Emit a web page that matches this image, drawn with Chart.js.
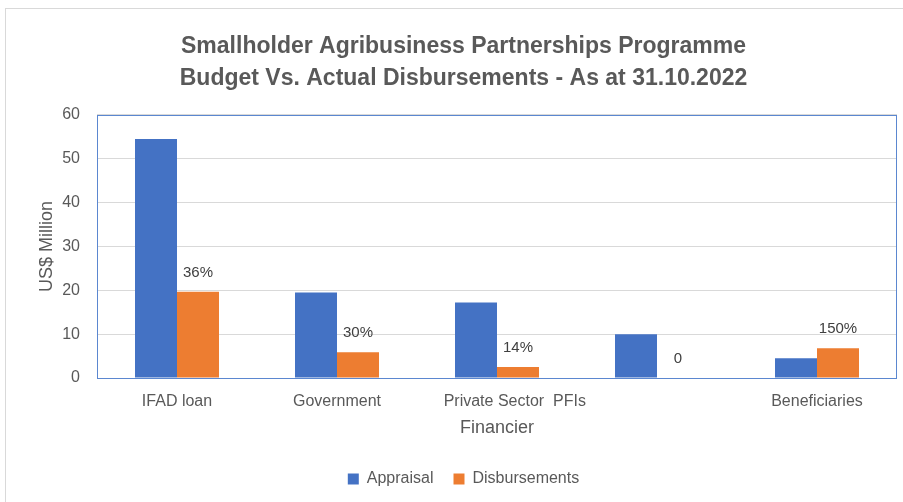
<!DOCTYPE html>
<html>
<head>
<meta charset="utf-8">
<script src="https://cdn.jsdelivr.net/npm/chart.js@4"></script>
<style>
  body { margin: 0; background: #fff; }
  #wrap { position: relative; width: 903px; height: 502px; }
  #frame { position: absolute; left: 5px; top: 8px; right: -2px; bottom: -2px; border: 1px solid #D9D9D9; }
  canvas { position: absolute; left: 0; top: 0; }
</style>
</head>
<body>
<div id="wrap">
  <div id="frame"></div>
  <canvas id="budgetChart" width="903" height="502"></canvas>
</div>
<script>
const categories = ['IFAD loan', 'Government', '        Private Sector  PFIs', '', 'Beneficiaries'];
const appraisal = [54.5, 19.5, 17.2, 10.0, 4.5];
const disbursements = [19.7, 5.9, 2.5, 0, 6.8];
const disbursementLabels = ['36%', '30%', '14%', '0', '150%'];
const titleLines = ['Smallholder Agribusiness Partnerships Programme', 'Budget Vs. Actual Disbursements - As at 31.10.2022'];

const textColor = '#595959';
const fontFamily = '"Liberation Sans", Arial, sans-serif';

// percent labels above the disbursement bars
const barLabels = {
    id: 'barLabels',
    afterDatasetsDraw(chart) {
        const ctx = chart.ctx;
        const meta = chart.getDatasetMeta(1);
        ctx.save();
        ctx.font = '15px ' + fontFamily;
        ctx.fillStyle = '#404040';
        ctx.textAlign = 'center';
        ctx.textBaseline = 'middle';
        meta.data.forEach((bar, i) => {
            ctx.fillText(disbursementLabels[i], bar.x, bar.y - 19);
        });
        ctx.restore();
    }
};

// blue border round the plot area
const plotBorder = {
    id: 'plotBorder',
    afterDraw(chart) {
        const a = chart.chartArea;
        const ctx = chart.ctx;
        ctx.save();
        ctx.strokeStyle = '#5B87D0';
        ctx.lineWidth = 1;
        ctx.strokeRect(Math.round(a.left) + 0.5, Math.round(a.top) + 0.5, Math.round(a.right - a.left) - 1, Math.round(a.bottom - a.top));
        ctx.restore();
    }
};

const ctx = document.getElementById('budgetChart').getContext('2d');

new Chart(ctx, {
    type: 'bar',
    data: {
        labels: categories,
        datasets: [{
            label: 'Appraisal',
            data: appraisal,
            backgroundColor: '#4472C4',
            borderWidth: 0,
            barPercentage: 1,
            categoryPercentage: 0.525
        }, {
            label: 'Disbursements',
            data: disbursements,
            backgroundColor: '#ED7D31',
            borderWidth: 0,
            barPercentage: 1,
            categoryPercentage: 0.525
        }]
    },
    options: {
        responsive: false,
        animation: false,
        layout: {
            padding: { left: 30, right: 6, top: 31, bottom: 5 }
        },
        plugins: {
            title: {
                display: true,
                text: titleLines,
                color: textColor,
                font: { family: fontFamily, size: 23, weight: 'bold', lineHeight: 1.39 },
                padding: { top: 0, bottom: 20 }
            },
            legend: {
                position: 'bottom',
                labels: {
                    color: textColor,
                    font: { family: fontFamily, size: 16 },
                    boxWidth: 11,
                    boxHeight: 11,
                    padding: 20
                }
            },
            tooltip: { enabled: false }
        },
        scales: {
            x: {
                grid: { display: false },
                border: { display: false },
                ticks: {
                    color: textColor,
                    font: { family: fontFamily, size: 16 },
                    maxRotation: 0,
                    autoSkip: false,
                    padding: 6
                },
                title: {
                    display: true,
                    text: 'Financier',
                    color: textColor,
                    font: { family: fontFamily, size: 18 },
                    padding: { top: 0, bottom: 12 }
                },
                afterFit(scale) {
                    scale.height = 73;
                }
            },
            y: {
                min: 0,
                max: 60,
                ticks: {
                    stepSize: 10,
                    color: textColor,
                    font: { family: fontFamily, size: 16 },
                    padding: 17
                },
                grid: { color: '#D9D9D9', drawTicks: false },
                border: { display: false },
                title: {
                    display: true,
                    text: 'US$ Million',
                    color: textColor,
                    font: { family: fontFamily, size: 18 },
                    padding: { top: 6, bottom: 0 }
                },
                afterFit(scale) {
                    scale.width = 67;
                }
            }
        }
    },
    plugins: [barLabels, plotBorder]
});
</script>
</body>
</html>
